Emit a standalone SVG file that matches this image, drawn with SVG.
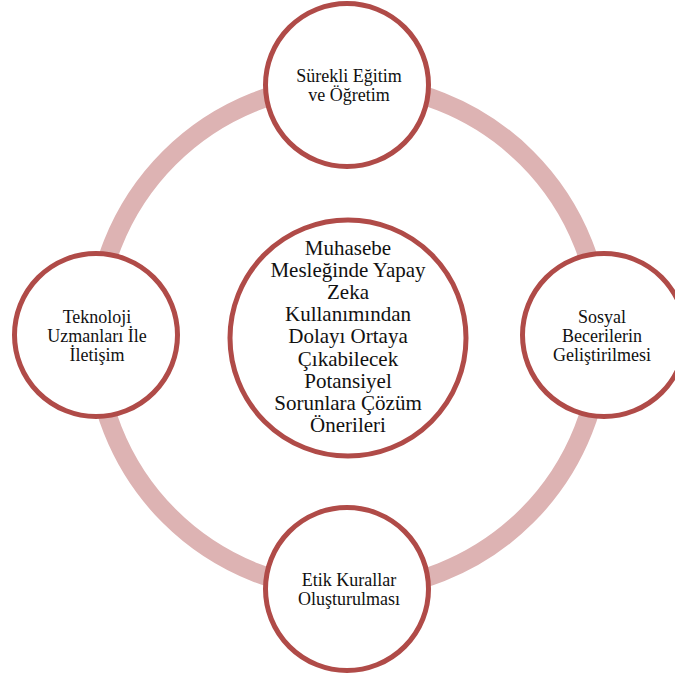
<svg xmlns="http://www.w3.org/2000/svg" width="675" height="677" viewBox="0 0 675 677" font-family="'Liberation Serif', 'Times New Roman', Times, 'DejaVu Serif', serif">
<style>
.ring{fill:none;stroke:#ddb3b3;stroke-width:19}
.node{fill:#ffffff;stroke:#b04b48;stroke-width:5}
text{font-family:'Liberation Serif','Times New Roman',Times,'DejaVu Serif',serif;fill:#111;text-anchor:middle}
.t{font-size:18px}
.c{font-size:21px}
</style>
<rect width="675" height="677" fill="#ffffff"/>
<g id="connectors">
<circle class="ring" cx="348" cy="337" r="253"/>
</g>
<g id="center">
<circle class="node" cx="348" cy="338" r="118"/>
<text class="c" x="348" y="255">Muhasebe</text>
<text class="c" x="348" y="277">Mesleğinde Yapay</text>
<text class="c" x="348" y="299">Zeka</text>
<text class="c" x="348" y="321">Kullanımından</text>
<text class="c" x="348" y="343">Dolayı Ortaya</text>
<text class="c" x="348" y="366">Çıkabilecek</text>
<text class="c" x="348" y="388">Potansiyel</text>
<text class="c" x="348" y="410">Sorunlara Çözüm</text>
<text class="c" x="348" y="432">Önerileri</text>
</g>
<g id="top">
<circle class="node" cx="347" cy="85" r="81.5"/>
<text class="t" x="349" y="82">Sürekli Eğitim</text>
<text class="t" x="349" y="101">ve Öğretim</text>
</g>
<g id="left">
<circle class="node" cx="96" cy="335" r="81.5"/>
<text class="t" x="97" y="323">Teknoloji</text>
<text class="t" x="97" y="342">Uzmanları İle</text>
<text class="t" x="97" y="361">İletişim</text>
</g>
<g id="right">
<circle class="node" cx="604" cy="335" r="81.5"/>
<text class="t" x="602" y="323">Sosyal</text>
<text class="t" x="602" y="342">Becerilerin</text>
<text class="t" x="602" y="361">Geliştirilmesi</text>
</g>
<g id="bottom">
<circle class="node" cx="347" cy="589" r="81.5"/>
<text class="t" x="349" y="586">Etik Kurallar</text>
<text class="t" x="349" y="605">Oluşturulması</text>
</g>
</svg>
